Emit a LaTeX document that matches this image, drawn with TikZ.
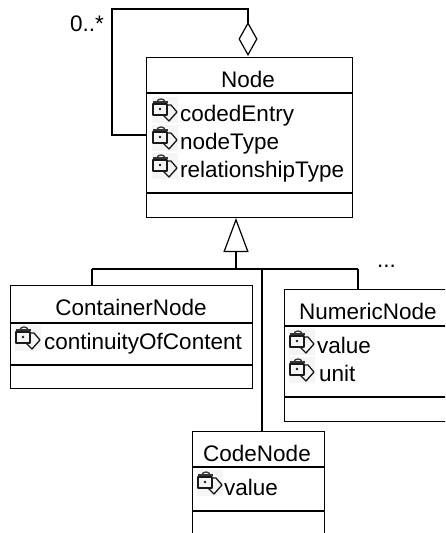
\documentclass[tikz,border=0pt]{standalone}
\usepackage{fontspec}
\setmainfont{Liberation Sans}
\usetikzlibrary{arrows.meta}
\tikzset{
  classbox/.style={draw, line width=1.4pt, inner sep=0pt, anchor=north west},
  classname/.style={inner sep=0pt, anchor=base},
  attrname/.style={inner sep=0pt, anchor=base west},
  freetext/.style={inner sep=0pt, anchor=base west},
  rel/.style={line width=1.4pt},
  aggr/.style={-{Diamond[open, length=34pt, width=19pt, line width=1.2pt]}},
  inherit/.style={-{Triangle[open, length=34pt, width=25pt, line width=1.2pt]}}
}
% attribute icon: padlock and tilted tag
\newcommand{\attricon}[1]{
  \begin{scope}[shift={(#1)}, line width=1.3pt, line join=round]
    \fill[black!4] (0,0) rectangle (26,-26);
    \draw[black!80] (5,-5) .. controls (5,-1) and (13,-1) .. (13,-5);
    \draw[black!80] (1,-5) -- (16,-5);
    \draw[black!90] (1,-7) -- (15,-7) -- (15,-18) -- (1,-18) -- cycle;
    \fill[black!90] (8,-12) circle (1.3);
    \draw[black!90] (15,-8) -- (19,-8) -- (25,-15) -- (17,-24) -- (11,-18);
  \end{scope}
}
\begin{document}
\begin{tikzpicture}[x=1pt, y=1pt, every node/.style={font=\fontsize{22.5}{27}\selectfont}]
\useasboundingbox (0,0) rectangle (445,-533);
\clip (0,0) rectangle (445,-533);

\node[classbox, minimum width=206, minimum height=160] (node) at (146,-57) {};
\node[classbox, minimum width=242, minimum height=103] (container) at (10,-285) {};
\node[classbox, minimum width=200, minimum height=132] (numeric) at (284,-289) {};
\node[classbox, minimum width=132, minimum height=140] (code) at (192,-431) {};

\draw[rel] (146,-93) -- (352,-93);
\draw[rel] (146,-193) -- (352,-193);
\draw[rel] (10,-323) -- (252,-323);
\draw[rel] (10,-365) -- (252,-365);
\draw[rel] (284,-326) -- (484,-326);
\draw[rel] (284,-397) -- (484,-397);
\draw[rel] (192,-467) -- (324,-467);
\draw[rel] (192,-511) -- (324,-511);

\node[classname] (nodename) at (248,-87) {Node};
\node[classname] (containername) at (131,-315) {ContainerNode};
\node[classname] (numericname) at (368,-319) {NumericNode};
\node[classname] (codename) at (257,-461) {CodeNode};

\attricon{152,-97}
\attricon{152,-125}
\attricon{152,-153}
\attricon{15,-325}
\attricon{289,-329}
\attricon{289,-357}
\attricon{197,-470}

\node[attrname] (codedentry) at (180,-121) {codedEntry};
\node[attrname] (nodetype) at (180,-149) {nodeType};
\node[attrname] (reltype) at (180,-177) {relationshipType};
\node[attrname] (continuity) at (44,-349) {continuityOfContent};
\node[attrname] (numvalue) at (317,-353) {value};
\node[attrname] (numunit) at (319,-381) {unit};
\node[attrname] (codevalue) at (224,-495) {value};

\node[freetext] (mult) at (70,-31) {0..*};
\node[freetext] (more) at (377,-267) {...};

% self association
\coordinate (loopstart) at (146,-135);
\coordinate (loopa) at (112,-135);
\coordinate (loopb) at (112,-9);
\coordinate (loopc) at (248,-9);
\coordinate (looptip) at (248,-56);
\draw[rel, aggr] (loopstart) -- (loopa) -- (loopb) -- (loopc) -- (looptip);

% generalization
\coordinate (bus) at (236,-269);
\coordinate (bustip) at (236,-218);
\coordinate (busl) at (92,-269);
\coordinate (busr) at (358,-269);
\coordinate (busc) at (262,-269);
\draw[rel, inherit] (bus) -- (bustip);
\draw[rel] (busl) -- (busr);
\draw[rel] (busl) -- (container.north -| busl);
\draw[rel] (busr) -- (numeric.north -| busr);
\draw[rel] (busc) -- (code.north -| busc);
\end{tikzpicture}
\end{document}
